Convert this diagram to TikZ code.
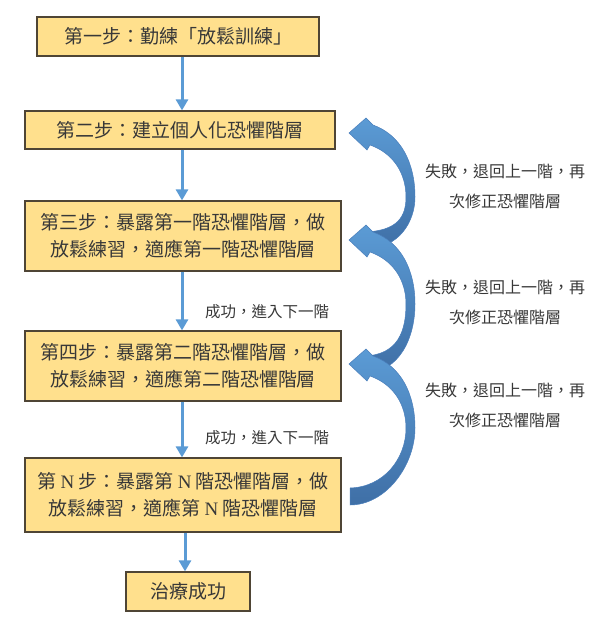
\documentclass[tikz,border=0pt]{standalone}
\usepackage{fontspec}
\setmainfont{Liberation Serif}
\newfontfamily\cjk{Noto Sans CJK TC}
\usetikzlibrary{arrows.meta}
\definecolor{boxfill}{HTML}{FFE08D}
\definecolor{boxline}{HTML}{4F4535}
\definecolor{arrowblue}{HTML}{5B9BD5}
\definecolor{arrowdark}{HTML}{3F6FA6}
\definecolor{arrowedge}{HTML}{4A7EBB}
\definecolor{txt}{HTML}{383838}
\newcommand\curvedarrow[4]{%
  \begin{scope}[shift={(#1,#2)}]
  \path[top color=arrowblue, bottom color=arrowdark, draw=arrowedge, line width=0.5pt]
    (0,0) -- (17,-15) -- (24,-8)
    .. controls (52,2) and (66,30) .. (66,64)
    .. controls (66,{64+0.55*(#3-64)}) and ({#4+36},{#3+9}) .. (#4,{#3+9})
    -- (#4,{#3-8})
    .. controls ({#4+34},{#3-9}) and (57,{64+0.45*(#3-64)}) .. (57,64)
    .. controls (57,40) and (44,20) .. (21,12)
    -- (18,17) -- cycle;
  \end{scope}}
\tikzset{
  box/.style={draw=boxline, line width=1.2pt, fill=boxfill, inner sep=0pt,
    align=center, text=txt, font=\cjk\fontsize{19}{27}\selectfont},
  conn/.style={draw=arrowblue, line width=3pt, -{Triangle[width=12pt,length=11pt]}},
  lbl/.style={text=txt, align=center, font=\cjk\fontsize{15.5}{30}\selectfont, inner sep=0pt},
}
\begin{document}
\begin{tikzpicture}[x=1pt, y=-1pt]
\useasboundingbox (0,0) rectangle (597,624);
\node[box, minimum width=282pt, minimum height=39pt] (b1) at (178,36.5) {第一步：勤練「放鬆訓練」};
\node[box, minimum width=310pt, minimum height=38pt] (b2) at (180,130) {第二步：建立個人化恐懼階層};
\node[box, minimum width=316pt, minimum height=70pt] (b3) at (183,236) {第三步：暴露第一階恐懼階層，做\\放鬆練習，適應第一階恐懼階層};
\node[box, minimum width=316pt, minimum height=70pt] (b4) at (183,366) {第四步：暴露第二階恐懼階層，做\\放鬆練習，適應第二階恐懼階層};
\node[box, minimum width=316pt, minimum height=74pt] (bN) at (183,495) {第\ {\rmfamily N}\ 步：暴露第\ {\rmfamily N}\ 階恐懼階層，做\\放鬆練習，適應第\ {\rmfamily N}\ 階恐懼階層};
\node[box, minimum width=124pt, minimum height=39pt] (bF) at (188,591.5) {治療成功};

\draw[conn] ([xshift=4pt]b1.south) -- ([xshift=4pt]b1.south |- b2.north);
\draw[conn] ([xshift=2pt]b2.south) -- ([xshift=2pt]b2.south |- b3.north);
\draw[conn] ([xshift=-1pt]b3.south) -- ([xshift=-1pt]b3.south |- b4.north);
\draw[conn] ([xshift=-1pt]b4.south) -- ([xshift=-1pt]b4.south |- bN.north);
\draw[conn] ([xshift=2pt]bN.south) -- ([xshift=2pt]bN.south |- bF.north);

\node[lbl] (s1) at (267,312) {成功，進入下一階};
\node[lbl] (s2) at (267,438) {成功，進入下一階};

\curvedarrow{349}{133}{107}{15}
\curvedarrow{349}{240}{124}{15}
\curvedarrow{349}{364}{132}{1}

\node[lbl, font=\cjk\fontsize{16}{30}\selectfont] (l1) at (505,186) {失敗，退回上一階，再\\次修正恐懼階層};
\node[lbl, font=\cjk\fontsize{16}{30}\selectfont] (l2) at (505,302) {失敗，退回上一階，再\\次修正恐懼階層};
\node[lbl, font=\cjk\fontsize{16}{30}\selectfont] (l3) at (505,405) {失敗，退回上一階，再\\次修正恐懼階層};
\end{tikzpicture}
\end{document}
